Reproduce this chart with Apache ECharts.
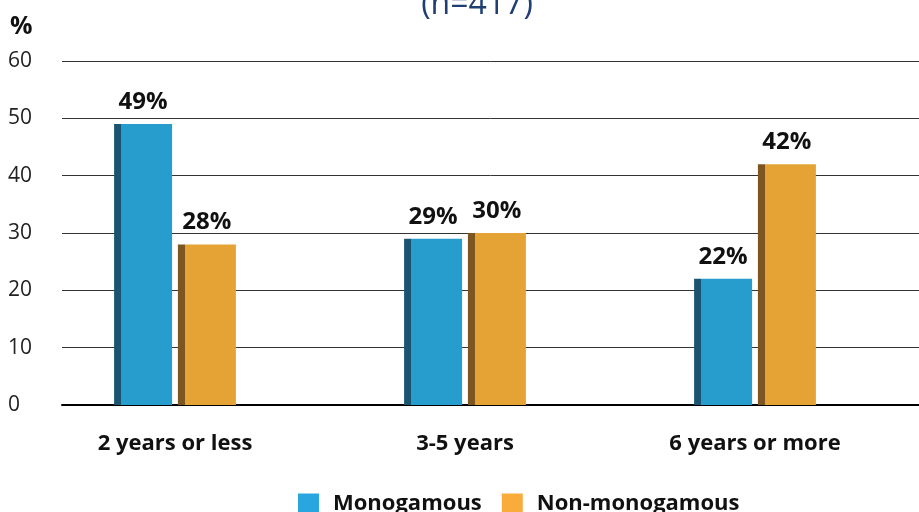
<!DOCTYPE html>
<html>
<head>
<meta charset="utf-8">
<script src="https://cdn.jsdelivr.net/npm/echarts@6/dist/echarts.min.js"></script>
<style>
  html, body { margin: 0; padding: 0; background: #fff; }
  #chart { width: 919px; height: 512px; }
</style>
</head>
<body>
<div id="chart"></div>
<script>
// chart data
const categories = ['2 years or less', '3-5 years', '6 years or more'];
const monogamous = [49, 29, 22];
const nonMonogamous = [28, 30, 42];
const yTicks = [0, 10, 20, 30, 40, 50, 60];

const FONT = '"Open Sans", "Noto Sans", sans-serif';

// fake 3D: dark strip on the left side of each bar
function shaded(dark, main) {
  return new echarts.graphic.LinearGradient(0, 0, 1, 0, [
    { offset: 0, color: dark },
    { offset: 0.12, color: dark },
    { offset: 0.121, color: main },
    { offset: 1, color: main }
  ]);
}

const chart = echarts.init(document.getElementById('chart'));

const valueLabel = {
  show: true, position: 'top', distance: 10, formatter: '{c}%',
  fontFamily: FONT, fontWeight: 'bold', fontSize: 24, color: '#111'
};

const option = {
  backgroundColor: '#fff',
  animation: false,
  title: {
    text: '(n=417)',
    left: 472,
    textAlign: 'center',
    top: -16,
    textStyle: { color: '#1f3f73', fontFamily: FONT, fontWeight: 'normal', fontSize: 32 }
  },
  legend: {
    top: 488,
    left: 293,
    icon: 'rect',
    itemWidth: 21,
    itemHeight: 21,
    itemGap: 20,
    textStyle: { fontFamily: FONT, fontWeight: 'bold', fontSize: 22, color: '#111', padding: [0, 0, 0, 9] },
    data: [
      { name: 'Monogamous', itemStyle: { color: '#29a6e0' } },
      { name: 'Non-monogamous', itemStyle: { color: '#f9ac3a' } }
    ]
  },
  grid: [
    // gridlines + value axis
    { left: 62, right: 0, top: 61, bottom: 107 },
    // bars
    { left: 30, right: 19, top: 61, bottom: 107 }
  ],
  xAxis: [
    {
      gridIndex: 0, type: 'category', data: categories,
      axisLine: { lineStyle: { color: '#000', width: 2 } },
      axisTick: { show: false }, axisLabel: { show: false }
    },
    {
      gridIndex: 1, type: 'category', data: categories,
      axisLine: { show: false }, axisTick: { show: false },
      axisLabel: { margin: 28, fontFamily: FONT, fontWeight: 'bold', fontSize: 22, color: '#111' }
    }
  ],
  yAxis: [
    {
      gridIndex: 0, type: 'value', min: 0, max: 60, interval: 10,
      name: '%', nameLocation: 'end', nameGap: 22,
      nameTextStyle: { align: 'left', padding: [0, 0, 0, -52], fontFamily: FONT, fontWeight: 'bold', fontSize: 25, color: '#111' },
      axisLine: { show: false }, axisTick: { show: false },
      axisLabel: {
        align: 'left', margin: 54, fontFamily: FONT, fontSize: 21, color: '#222',
        formatter: v => (yTicks.includes(v) ? String(v) : '')
      },
      splitLine: { lineStyle: { color: '#333', width: 1 } }
    },
    {
      gridIndex: 1, type: 'value', min: 0, max: 60, interval: 10, show: false,
      splitLine: { show: false }
    }
  ],
  series: [
    {
      name: 'Monogamous', type: 'bar', xAxisIndex: 1, yAxisIndex: 1,
      data: monogamous, barWidth: 58, barGap: '10%',
      itemStyle: { color: shaded('#1b5470', '#279dce') },
      label: valueLabel
    },
    {
      name: 'Non-monogamous', type: 'bar', xAxisIndex: 1, yAxisIndex: 1,
      data: nonMonogamous, barWidth: 58,
      itemStyle: { color: shaded('#7d5520', '#e5a335') },
      label: valueLabel
    }
  ]
};

chart.setOption(option);
</script>
</body>
</html>
